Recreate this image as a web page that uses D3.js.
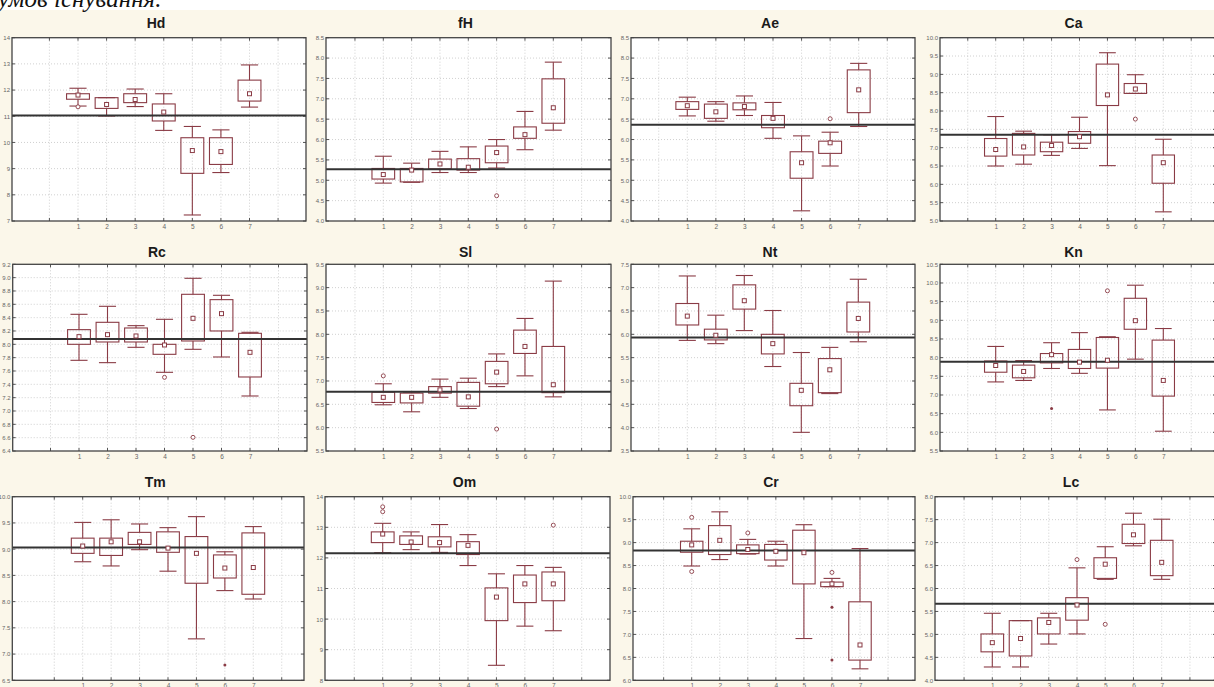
<!DOCTYPE html>
<html><head><meta charset="utf-8">
<script src="https://cdn.jsdelivr.net/npm/d3@7"></script>
<style>body{margin:0;background:#fff}svg{display:block}</style>
</head><body><svg id="c" width="1214" height="687"></svg>
<script>
// ---- data ----
const categories = [1,2,3,4,5,6,7];
const panelNames = ["Hd","fH","Ae","Ca","Rc","Sl","Nt","Kn","Tm","Om","Cr","Lc"];
// each row: [whisker low, Q1, median, Q3, whisker high]
const Hd = [[11.39,11.65,11.81,11.86,12.07],[11.01,11.30,11.45,11.71,11.71],[11.37,11.52,11.64,11.86,12.04],[10.46,10.82,11.16,11.47,11.86],[7.23,8.82,9.69,10.18,10.61],[8.85,9.16,9.65,10.18,10.48],[11.35,11.58,11.86,12.38,12.96]];
const fH = [[4.93,5.03,5.14,5.29,5.59],[4.95,4.96,5.25,5.29,5.42],[5.19,5.28,5.40,5.52,5.71],[5.19,5.25,5.32,5.53,5.82],[5.30,5.43,5.68,5.84,6.00],[5.75,6.03,6.12,6.31,6.69],[6.23,6.40,6.78,7.49,7.90]];
const Ae = [[6.58,6.74,6.83,6.93,7.04],[6.45,6.52,6.68,6.87,6.93],[6.59,6.73,6.81,6.90,7.07],[6.03,6.29,6.52,6.59,6.91],[4.25,5.05,5.43,5.70,6.09],[5.35,5.66,5.92,5.96,6.18],[6.32,6.66,7.22,7.71,7.87]];
const Ca = [[6.50,6.77,6.95,7.25,7.85],[6.55,6.80,7.02,7.39,7.45],[6.79,6.89,7.06,7.15,7.35],[6.98,7.12,7.30,7.44,7.83],[6.51,8.15,8.44,9.28,9.59],[8.48,8.48,8.60,8.75,8.99],[5.25,6.03,6.59,6.80,7.23]];
const Rc = [[7.76,8.00,8.115,8.22,8.45],[7.725,8.035,8.145,8.33,8.57],[7.955,8.035,8.125,8.245,8.28],[7.58,7.85,7.99,8.00,8.375],[7.925,8.05,8.39,8.75,8.99],[7.81,8.20,8.46,8.67,8.735],[7.225,7.51,7.88,8.165,8.18]];
const Sl = [[6.49,6.54,6.65,6.76,6.94],[6.34,6.53,6.65,6.74,6.76],[6.65,6.74,6.81,6.88,7.04],[6.41,6.46,6.66,6.97,7.06],[6.88,6.94,7.19,7.42,7.58],[7.11,7.59,7.74,8.09,8.34],[6.66,6.75,6.92,7.74,9.14]];
const Nt = [[5.87,6.20,6.39,6.66,7.25],[5.80,5.88,5.98,6.11,6.41],[6.08,6.54,6.72,7.06,7.26],[5.31,5.58,5.80,6.00,6.51],[3.90,4.47,4.80,4.95,5.61],[4.73,4.75,5.24,5.48,5.72],[5.84,6.05,6.34,6.69,7.18]];
const Kn = [[7.35,7.61,7.79,7.91,8.30],[7.39,7.46,7.63,7.80,7.92],[7.71,7.86,8.08,8.11,8.40],[7.58,7.71,7.88,8.22,8.67],[6.60,7.72,7.93,8.54,8.56],[7.96,8.76,8.99,9.59,9.94],[6.03,6.97,7.39,8.47,8.78]];
const Tm = [[8.76,8.92,9.06,9.21,9.51],[8.68,8.88,9.14,9.21,9.56],[8.99,9.09,9.14,9.32,9.48],[8.58,8.94,9.02,9.33,9.41],[7.29,8.35,8.92,9.24,9.62],[8.21,8.45,8.64,8.89,8.95],[8.05,8.14,8.65,9.31,9.43]];
const Om = [[12.17,12.50,12.78,12.85,13.13],[12.27,12.44,12.52,12.72,12.85],[12.18,12.36,12.50,12.69,13.09],[11.75,12.11,12.41,12.53,12.76],[8.49,9.95,10.72,11.02,11.48],[9.77,10.54,11.15,11.44,11.75],[9.62,10.60,11.15,11.54,11.69]];
const Cr = [[8.49,8.79,8.95,9.03,9.30],[8.63,8.74,9.05,9.37,9.67],[8.75,8.76,8.85,8.95,9.07],[8.49,8.62,8.81,8.96,9.03],[6.91,8.10,8.78,9.27,9.39],[8.04,8.04,8.10,8.14,8.22],[6.25,6.44,6.77,7.71,8.87]];
const Lc = [[4.29,4.62,4.82,5.01,5.46],[4.29,4.53,4.91,5.30,5.30],[4.79,5.01,5.26,5.36,5.46],[5.01,5.31,5.64,5.80,6.45],[6.20,6.22,6.53,6.67,6.91],[6.93,6.98,7.17,7.40,7.64],[6.20,6.28,6.57,7.05,7.51]];
// outliers [category, value]
const HdOut = [[1,11.36]];
const fHOut = [[5,4.62]];
const AeOut = [[6,6.51]];
const CaOut = [[6,7.78]];
const RcOut = [[4,7.505],[5,6.605]];
const SlOut = [[1,7.11],[5,5.97]];
const NtOut = [];
const KnOut = [[5,9.79]];
const TmOut = [];
const OmOut = [[1,13.67],[1,13.51],[7,13.07]];
const CrOut = [[1,9.55],[1,8.37],[3,9.21],[6,8.35]];
const LcOut = [[4,6.63],[5,5.22]];
// extremes [category, value]
const KnExt = [[3,6.64]];
const TmExt = [[6,6.79]];
const CrExt = [[6,7.59],[6,6.44]];
const grandMeans = [11.03,5.27,6.36,7.35,8.08,6.77,5.93,7.89,9.03,12.15,8.83,5.67];
const yDomains = [[7,14],[4,8.5],[4,8.5],[5,10],[6.4,9.2],[5.5,9.5],[3.5,7.5],[5.5,10.5],[6.5,10],[8,14],[6,10],[4,8]];
const yStep = [1,0.5,0.5,0.5,0.2,0.5,0.5,0.5,0.5,1,0.5,0.5];

const boxes = [Hd,fH,Ae,Ca,Rc,Sl,Nt,Kn,Tm,Om,Cr,Lc];
const outs = [HdOut,fHOut,AeOut,CaOut,RcOut,SlOut,NtOut,KnOut,TmOut,OmOut,CrOut,LcOut];
const exts = [[],[],[],[],[],[],[],KnExt,TmExt,[],CrExt,[]];

// ---- layout (pixels) ----
const rows = [{top:37.7,bottom:221,title:27.5},{top:264.3,bottom:451,title:256.5},{top:496.7,bottom:680.3,title:486.5}];
const cols = [
  [{fl:12,fr:306,x1:78,x7:249.5},{fl:326,fr:611,x1:383.3,x7:553.3},{fl:631,fr:915,x1:687.3,x7:858.7},{fl:940,fr:1216,x1:995.7,x7:1163.3}],
  [{fl:12.7,fr:307,x1:79,x7:250},{fl:326,fr:611,x1:383.3,x7:553.3},{fl:631,fr:915,x1:687.3,x7:858.3},{fl:940,fr:1216,x1:995.7,x7:1163.3}],
  [{fl:12.3,fr:304,x1:82.7,x7:253.3},{fl:325,fr:610,x1:382.7,x7:553.3},{fl:633,fr:915,x1:691.7,x7:860},{fl:935,fr:1216,x1:992.3,x7:1161.7}]
];
const boxColor = "#8a3b45";
const svg = d3.select("#c");
svg.append("rect").attr("x",0).attr("y",10).attr("width",1214).attr("height",677).attr("fill","#fbf7ea");
svg.append("text").attr("x",-2).attr("y",7).attr("font-family","Liberation Serif").attr("font-style","italic")
  .attr("font-size",25).attr("fill","#111").text("умов існування.");

boxes.forEach((data,i)=>{
  const r = Math.floor(i/4), c = i%4;
  const R = rows[r], C = cols[r][c];
  const x = d3.scaleLinear().domain([1,7]).range([C.x1,C.x7]);
  const [lo,hi] = yDomains[i];
  const y = d3.scaleLinear().domain([lo,hi]).range([R.bottom,R.top]);
  const sp = (C.x7-C.x1)/6, bw = sp*0.8, cw = sp*0.6;
  const n = Math.round((hi-lo)/yStep[i]);
  const ticks = d3.range(n+1).map(k=>+(lo+k*yStep[i]).toFixed(2));
  const fmt = yStep[i]===1 ? d3.format("d") : d3.format(".1f");
  const g = svg.append("g");
  g.append("rect").attr("x",C.fl).attr("y",R.top).attr("width",C.fr-C.fl).attr("height",R.bottom-R.top).attr("fill","#fff");
  // grid
  g.selectAll(".hg").data(ticks.slice(1,-1)).join("line").attr("x1",C.fl).attr("x2",C.fr)
    .attr("y1",d=>y(d)).attr("y2",d=>y(d)).attr("stroke","#c4c4c4").attr("stroke-width",0.8).attr("stroke-dasharray","1,2");
  g.selectAll(".vg").data(d3.range(0,9)).join("line").attr("y1",R.top).attr("y2",R.bottom)
    .attr("x1",d=>x(d)).attr("x2",d=>x(d)).attr("stroke","#c4c4c4").attr("stroke-width",0.8).attr("stroke-dasharray","1,2");
  // ticks on frame
  g.selectAll(".tt").data(d3.range(0,9)).join("line").attr("y1",R.top).attr("y2",R.top+3)
    .attr("x1",d=>x(d)).attr("x2",d=>x(d)).attr("stroke","#555");
  g.selectAll(".tb").data(d3.range(0,9)).join("line").attr("y1",R.bottom).attr("y2",R.bottom-3)
    .attr("x1",d=>x(d)).attr("x2",d=>x(d)).attr("stroke","#555");
  g.selectAll(".tl").data(ticks).join("line").attr("x1",C.fl).attr("x2",C.fl+3)
    .attr("y1",d=>y(d)).attr("y2",d=>y(d)).attr("stroke","#555");
  g.selectAll(".tr").data(ticks).join("line").attr("x1",C.fr).attr("x2",C.fr-3)
    .attr("y1",d=>y(d)).attr("y2",d=>y(d)).attr("stroke","#555");
  // boxes
  const bg = g.append("g").attr("stroke",boxColor).attr("stroke-width",1.1).attr("fill","none");
  data.forEach((d,k)=>{
    const cx = x(categories[k]);
    bg.append("line").attr("x1",cx).attr("x2",cx).attr("y1",y(d[0])).attr("y2",y(d[1]));
    bg.append("line").attr("x1",cx).attr("x2",cx).attr("y1",y(d[3])).attr("y2",y(d[4]));
    bg.append("line").attr("x1",cx-cw/2).attr("x2",cx+cw/2).attr("y1",y(d[0])).attr("y2",y(d[0]));
    bg.append("line").attr("x1",cx-cw/2).attr("x2",cx+cw/2).attr("y1",y(d[4])).attr("y2",y(d[4]));
    bg.append("rect").attr("x",cx-bw/2).attr("width",bw).attr("y",y(d[3])).attr("height",Math.max(0.5,y(d[1])-y(d[3])));
  });
  // grand mean line
  g.append("line").attr("x1",C.fl).attr("x2",C.fr).attr("y1",y(grandMeans[i])).attr("y2",y(grandMeans[i]))
    .attr("stroke","#333").attr("stroke-width",2);
  // medians
  g.selectAll(".md").data(data).join("rect").attr("x",(d,k)=>x(categories[k])-2).attr("y",d=>y(d[2])-2)
    .attr("width",4).attr("height",4).attr("fill","#fff").attr("stroke",boxColor).attr("stroke-width",1);
  g.selectAll(".ou").data(outs[i]).join("circle").attr("cx",d=>x(d[0])).attr("cy",d=>y(d[1])).attr("r",2)
    .attr("fill","#fff").attr("stroke",boxColor).attr("stroke-width",0.9);
  g.selectAll(".ex").data(exts[i]).join("circle").attr("cx",d=>x(d[0])).attr("cy",d=>y(d[1])).attr("r",1.5)
    .attr("fill",boxColor);
  // frame
  g.append("rect").attr("x",C.fl).attr("y",R.top).attr("width",C.fr-C.fl).attr("height",R.bottom-R.top)
    .attr("fill","none").attr("stroke","#444").attr("stroke-width",1.3);
  // axes
  const ya = g.append("g").attr("transform",`translate(${C.fl-1.5},0)`)
    .call(d3.axisLeft(y).tickValues(ticks).tickSize(0).tickPadding(0.5).tickFormat(fmt));
  ya.select(".domain").remove();
  ya.selectAll("text").attr("font-family","Liberation Sans").attr("font-size",6).attr("fill","#666");
  const xa = g.append("g").attr("transform",`translate(0,${R.bottom+2})`)
    .call(d3.axisBottom(x).tickValues(categories).tickSize(0).tickPadding(1).tickFormat(d3.format("d")));
  xa.select(".domain").remove();
  xa.selectAll("text").attr("font-family","Liberation Sans").attr("font-size",6.5).attr("fill","#666");
  // title
  g.append("text").attr("x",(C.fl+Math.min(C.fr,1213))/2 - 3).attr("y",R.title).attr("text-anchor","middle")
    .attr("font-family","Liberation Sans").attr("font-weight","bold").attr("font-size",14).attr("fill","#1a1a1a")
    .text(panelNames[i]);
});
</script></body></html>
